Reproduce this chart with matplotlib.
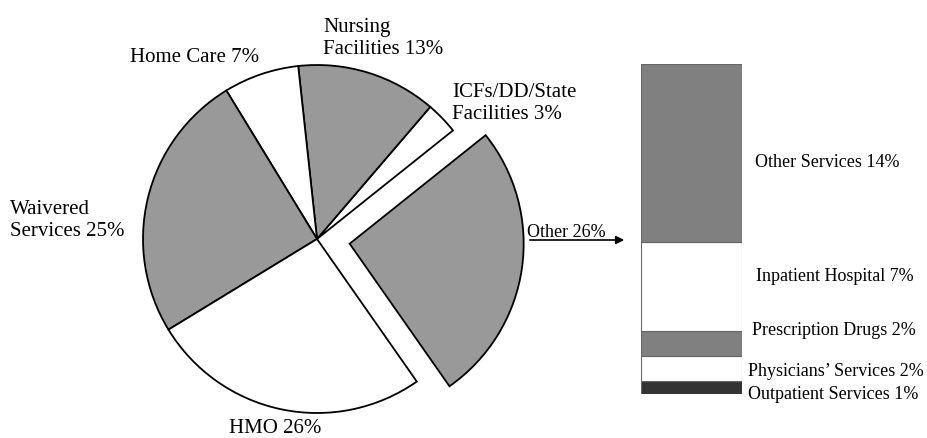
import matplotlib.pyplot as plt

plt.rcParams['font.family'] = ['Liberation Serif', 'DejaVu Serif']

# pie data (counterclockwise from the exploded slice)
pie_labels = ['Other 26%', 'ICFs/DD/State\nFacilities 3%', 'Nursing\nFacilities 13%',
              'Home Care 7%', 'Waivered\nServices 25%', 'HMO 26%']
pie_values = [26, 3, 13, 7, 25, 26]
pie_colors = ['#999999', 'white', '#999999', 'white', '#999999', 'white']

# breakdown of "Other" (bottom to top)
bar_labels = ['Outpatient Services 1%', 'Physicians\u2019 Services 2%', 'Prescription Drugs 2%',
              'Inpatient Hospital 7%', 'Other Services 14%']
bar_values = [1, 2, 2, 7, 14]
bar_colors = ['#333333', 'white', '#808080', 'white', '#808080']

W, H = 928, 438
fig = plt.figure(figsize=(W / 100, H / 100), dpi=100)
ax = fig.add_axes([0, 0, 1, 1])

cx, cy, r = 317, H - 239, 174
# explode is in data units here (pixels)
ax.pie(pie_values, colors=pie_colors, startangle=-55, counterclock=True,
       explode=[33, 0, 0, 0, 0, 0], center=(cx, cy), radius=r,
       wedgeprops=dict(edgecolor='black', linewidth=1.3))
ax.set_xlim(0, W)
ax.set_ylim(0, H)
ax.set_aspect('equal')
ax.axis('off')

# label positions in pixels: (left x, baseline of last line)
pie_label_pos = [(527, 237), (452, 119), (323, 54), (130, 62), (10, 236), (229, 433)]
for i, (lab, (px, py)) in enumerate(zip(pie_labels, pie_label_pos)):
    size = 13 if i == 0 else 15
    ax.text(px, H - py, lab, fontsize=size, ha='left', va='baseline', linespacing=1.2)

# arrow pointing to the bar
ax.annotate('', xy=(627, H - 240), xytext=(527, H - 240),
            arrowprops=dict(arrowstyle='-|>', color='black', lw=1.2, mutation_scale=12))

# stacked bar
bx0, by0, bw, bh = 641, 394, 101, 330
bax = fig.add_axes([bx0 / W, (H - by0) / H, bw / W, bh / H])
bottom = 0
for val, col in zip(bar_values, bar_colors):
    bax.bar(0.5, val, width=1, bottom=bottom, color=col, edgecolor='#666666', linewidth=0.8)
    bottom += val
bax.set_xlim(0, 1)
bax.set_ylim(0, sum(bar_values))
bax.axis('off')

bar_label_pos = [(748, 399), (748, 376), (752, 335), (756, 281), (755, 167)]
for lab, (px, py) in zip(bar_labels, bar_label_pos):
    ax.text(px, H - py, lab, fontsize=13, ha='left', va='baseline')

fig.savefig('out.png', dpi=100)
